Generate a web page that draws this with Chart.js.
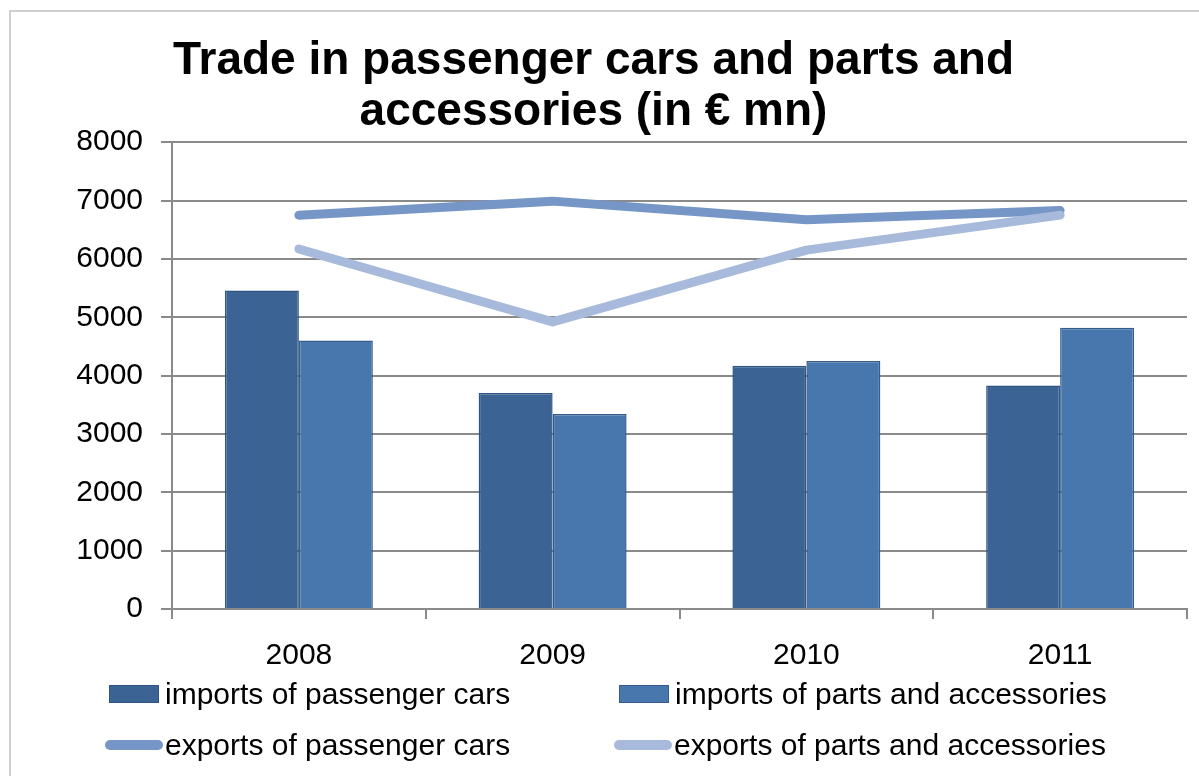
<!DOCTYPE html>
<html>
<head>
<meta charset="utf-8">
<script src="https://cdn.jsdelivr.net/npm/chart.js@4/dist/chart.umd.min.js"></script>
<style>
  html, body { margin: 0; padding: 0; background: #fff; }
  #wrap { position: relative; width: 1199px; height: 776px; overflow: hidden; }
  #frame { position: absolute; left: 9px; top: 10px; right: -5px; bottom: -5px;
           border-top: 2px solid #cfcfcf; border-left: 2px solid #cfcfcf; }
  canvas { position: absolute; left: 0; top: 0; }
  .leg { position: absolute; font: 30px "Liberation Sans", Arial, sans-serif; color: #000;
         white-space: nowrap; line-height: 36px; }
  .swatch { position: absolute; }
</style>
</head>
<body>
<div id="wrap">
  <div id="frame"></div>
  <canvas id="chart" width="1199" height="776"></canvas>
  <div id="legend"></div>
</div>
<script>
const years = ['2008', '2009', '2010', '2011'];
const importsCars = [5460, 3700, 4170, 3830];
const importsParts = [4600, 3340, 4250, 4820];
const exportsCars = [6750, 6990, 6670, 6830];
const exportsParts = [6170, 4920, 6150, 6750];
const yTicks = [0, 1000, 2000, 3000, 4000, 5000, 6000, 7000, 8000];

const seriesNames = [
  'imports of passenger cars',
  'imports of parts and accessories',
  'exports of passenger cars',
  'exports of parts and accessories'
];

const darkBar = '#3b6394';
const lightBar = '#4877ae';
const darkLine = '#7596c6';
const lightLine = '#a7badb';
const gridGray = '#8a8a8a';
const font = 'Liberation Sans, Arial, sans-serif';

const ctx = document.getElementById('chart').getContext('2d');
new Chart(ctx, {
  type: 'bar',
  data: {
    labels: years,
    datasets: [
      {
        label: seriesNames[0], data: importsCars, order: 2,
        backgroundColor: darkBar, borderColor: '#2f5584', borderWidth: 1.5,
        categoryPercentage: 0.583, barPercentage: 1
      },
      {
        label: seriesNames[1], data: importsParts, order: 2,
        backgroundColor: lightBar, borderColor: '#355d8c', borderWidth: 1.5,
        categoryPercentage: 0.583, barPercentage: 1
      },
      {
        type: 'line', label: seriesNames[2], data: exportsCars, order: 1,
        borderColor: darkLine, borderWidth: 9, pointRadius: 0,
        borderCapStyle: 'round', borderJoinStyle: 'round', tension: 0
      },
      {
        type: 'line', label: seriesNames[3], data: exportsParts, order: 0,
        borderColor: lightLine, borderWidth: 9, pointRadius: 0,
        borderCapStyle: 'round', borderJoinStyle: 'round', tension: 0
      }
    ]
  },
  options: {
    responsive: false,
    animation: false,
    devicePixelRatio: 1,
    layout: { padding: { left: 0, right: 12, top: 0, bottom: 83 } },
    plugins: {
      legend: { display: false },
      tooltip: { enabled: false },
      title: {
        display: true,
        text: ['Trade in passenger cars and parts and', 'accessories (in \u20ac mn)'],
        color: '#000',
        font: { family: font, size: 46, weight: 'bold', lineHeight: 1.1 },
        padding: { top: 36, bottom: 5 }
      }
    },
    scales: {
      x: {
        grid: { drawOnChartArea: false, drawTicks: true, tickLength: 10, color: gridGray, lineWidth: 2 },
        border: { display: true, color: gridGray, width: 2 },
        ticks: { color: '#000', font: { family: font, size: 30 }, padding: 19, maxRotation: 0 }
      },
      y: {
        min: 0, max: 8000,
        afterBuildTicks: axis => { axis.ticks = yTicks.map(v => ({ value: v })); },
        afterFit: axis => { axis.width = 172; },
        grid: { color: gridGray, lineWidth: 2, tickLength: 11 },
        border: { display: true, color: gridGray, width: 2 },
        ticks: { color: '#000', font: { family: font, size: 30 }, padding: 18, callback: v => String(v) }
      }
    }
  }
});

// Two-column legend under the plot
const legendItems = [
  { x: 109, y: 694, kind: 'bar', color: darkBar, edge: '#2f5584' },
  { x: 619, y: 694, kind: 'bar', color: lightBar, edge: '#355d8c' },
  { x: 105, y: 745, kind: 'line', color: darkLine },
  { x: 614, y: 745, kind: 'line', color: lightLine }
];
const legend = document.getElementById('legend');
legendItems.forEach((it, i) => {
  const sw = document.createElement('div');
  sw.className = 'swatch';
  if (it.kind === 'bar') {
    sw.style.cssText = `left:${it.x}px;top:${it.y - 9}px;width:48px;height:16px;background:${it.color};border:1px solid ${it.edge};`;
  } else {
    sw.style.cssText = `left:${it.x}px;top:${it.y - 5}px;width:58px;height:10px;background:${it.color};border-radius:5px;`;
  }
  legend.appendChild(sw);
  const tx = document.createElement('div');
  tx.className = 'leg';
  tx.style.left = (it.x + (it.kind === 'bar' ? 56 : 60)) + 'px';
  tx.style.top = (it.y - 18) + 'px';
  tx.textContent = seriesNames[i];
  legend.appendChild(tx);
});
</script>
</body>
</html>
